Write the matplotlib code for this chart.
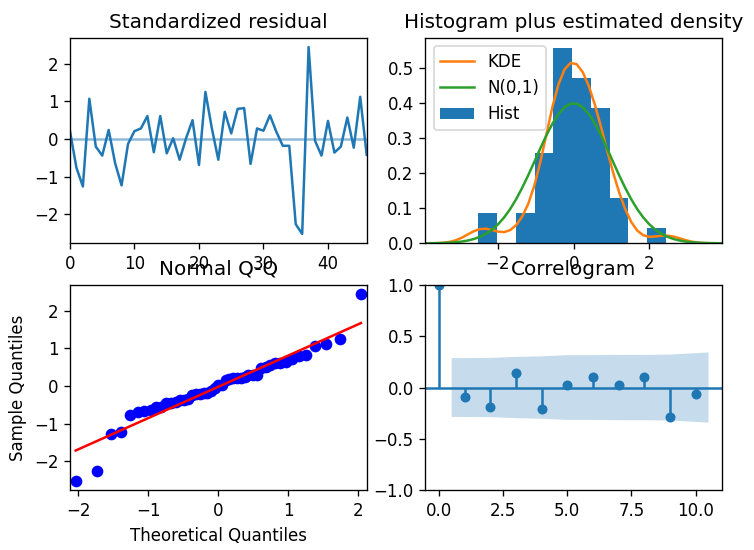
import numpy as np
import matplotlib
matplotlib.use("Agg")
import matplotlib.pyplot as plt
from statistics import NormalDist

# standardized residuals (lags 0..46)
resid = np.array([
    0.21, -0.76, -1.26, 1.07, -0.20, -0.44, 0.24, -0.64, -1.23, -0.13,
    0.21, 0.28, 0.61, -0.35, 0.61, -0.38, 0.02, -0.55, 0.02, 0.50,
    -0.69, 1.25, 0.28, -0.55, 0.72, 0.15, 0.80, 0.82, -0.66, 0.28,
    0.22, 0.63, 0.19, -0.18, -0.18, -2.26, -2.52, 2.44, -0.05, -0.44,
    0.48, -0.36, -0.20, 0.57, -0.23, 1.12, -0.42,
])

# autocorrelations
acf_lags = np.arange(11)
acf_vals = np.array([1.0, -0.09, -0.19, 0.14, -0.21, 0.02, 0.10, 0.02, 0.10, -0.29, -0.06])

nobs = len(resid)
dpi = 120
fig = plt.figure(figsize=(754 / dpi, 550 / dpi), dpi=dpi)

w, h = 0.3935, 0.3738
ax1 = fig.add_axes([0.0928, 0.5576, w, h])
ax2 = fig.add_axes([0.5641, 0.5576, w, h])
ax3 = fig.add_axes([0.0928, 0.1085, w, h])
ax4 = fig.add_axes([0.5641, 0.1085, w, h])

# --- Standardized residual ---
t = np.arange(nobs)
ax1.plot(t, resid)
ax1.hlines(0, t[0], t[-1], alpha=0.5)
ax1.set_xlim(t[0], t[-1])
ax1.set_title("Standardized residual")

# --- Histogram plus estimated density ---
xlim = (-1.96 * 2, 1.96 * 2)
xs = np.linspace(xlim[0], xlim[1])
bw = resid.std(ddof=1) * nobs ** (-1 / 5)
kde = np.exp(-0.5 * ((xs[:, None] - resid[None, :]) / bw) ** 2).sum(axis=1) / (nobs * bw * np.sqrt(2 * np.pi))
std_norm = NormalDist()
ax2.plot(xs, kde, label="KDE", color="C1")
ax2.plot(xs, [std_norm.pdf(v) for v in xs], label="N(0,1)", color="C2")
ax2.hist(resid, density=True, label="Hist", color="C0")
ax2.set_xlim(xlim)
ax2.legend(loc="upper left")
ax2.set_title("Histogram plus estimated density")

# --- Normal Q-Q ---
pos = np.arange(1, nobs + 1) / (nobs + 1)
theo = np.array([std_norm.inv_cdf(p) for p in pos])
samp = np.sort(resid)
ax3.plot(theo, samp, "bo")
ax3.plot(theo, theo * samp.std() + samp.mean(), "r-")
ax3.set_xmargin(0.02)
ax3.set_xlabel("Theoretical Quantiles")
ax3.set_ylabel("Sample Quantiles")
ax3.set_title("Normal Q-Q")

# --- Correlogram ---
ax4.vlines(acf_lags, 0, acf_vals)
ax4.axhline(0)
ax4.plot(acf_lags, acf_vals, marker="o", markersize=5, linestyle="None", color="C0")
varacf = np.ones(len(acf_vals)) / nobs
varacf[2:] *= 1 + 2 * np.cumsum(acf_vals[1:-1] ** 2)
conf = 1.96 * np.sqrt(varacf[1:])
band_x = acf_lags[1:].astype(float)
band_x[0] -= 0.5
band_x[-1] += 0.5
ax4.fill_between(band_x, -conf, conf, alpha=0.25)
ax4.margins(0.05)
ax4.set_ylim(-1, 1)
ax4.set_title("Correlogram")

fig.savefig("out.png", dpi=dpi)
